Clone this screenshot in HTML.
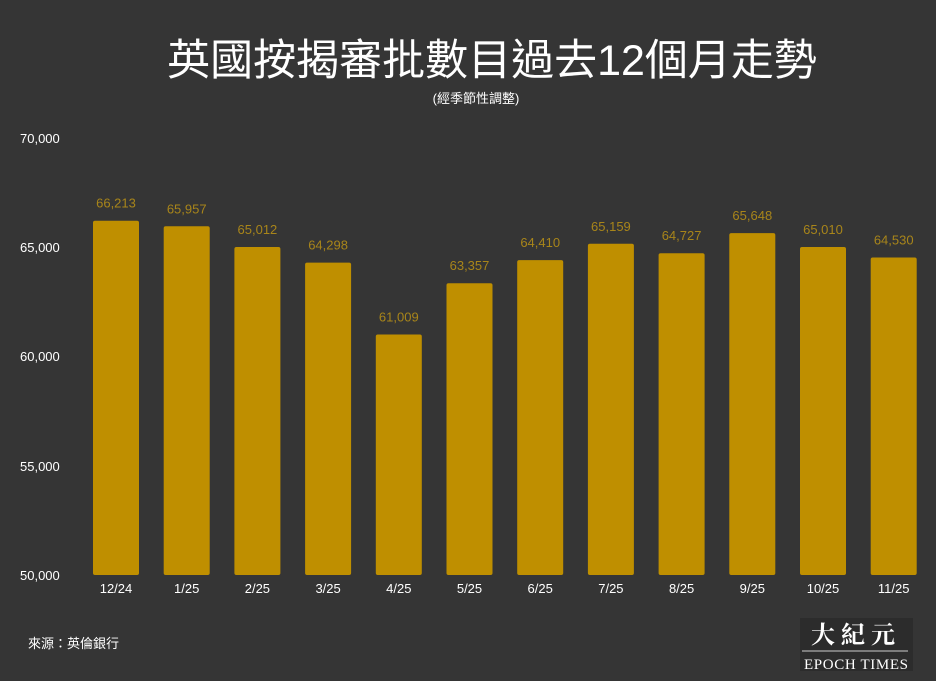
<!DOCTYPE html>
<html><head><meta charset="utf-8"><style>
body{margin:0;background:#353535;}
</style></head><body>
<svg width="936" height="681" xmlns="http://www.w3.org/2000/svg" style="display:block">
<rect width="936" height="681" fill="#353535"/>
<text x="492" y="75" text-anchor="middle" fill="#fff" font-size="43" font-family="Liberation Sans, Noto Sans CJK TC, sans-serif">英國按揭審批數目過去12個月走勢</text>
<text x="476" y="103" text-anchor="middle" fill="#fff" font-size="13" font-family="Liberation Sans, Noto Sans CJK TC, sans-serif">(經季節性調整)</text>
<g fill="#fff" font-size="13" font-family="Liberation Sans, sans-serif">
<text x="20" y="143">70,000</text>
<text x="20" y="252">65,000</text>
<text x="20" y="361">60,000</text>
<text x="20" y="471">55,000</text>
<text x="20" y="580">50,000</text>
</g>
<g fill="#bf8f00">
<rect x="93" y="220.7" width="46" height="354.3" rx="2"/>
<rect x="163.7" y="226.3" width="46" height="348.7" rx="2"/>
<rect x="234.4" y="247" width="46" height="328" rx="2"/>
<rect x="305.1" y="262.6" width="46" height="312.4" rx="2"/>
<rect x="375.8" y="334.5" width="46" height="240.5" rx="2"/>
<rect x="446.5" y="283.2" width="46" height="291.8" rx="2"/>
<rect x="517.2" y="260.1" width="46" height="314.9" rx="2"/>
<rect x="587.9" y="243.8" width="46" height="331.2" rx="2"/>
<rect x="658.6" y="253.2" width="46" height="321.8" rx="2"/>
<rect x="729.3" y="233.1" width="46" height="341.9" rx="2"/>
<rect x="800" y="247" width="46" height="328" rx="2"/>
<rect x="870.7" y="257.5" width="46" height="317.5" rx="2"/>
</g>
<g fill="#a8851a" font-size="13" text-anchor="middle" font-family="Liberation Sans, sans-serif">
<text x="116" y="207.7">66,213</text>
<text x="186.7" y="213.3">65,957</text>
<text x="257.4" y="234">65,012</text>
<text x="328.1" y="249.6">64,298</text>
<text x="398.8" y="321.5">61,009</text>
<text x="469.5" y="270.2">63,357</text>
<text x="540.2" y="247.1">64,410</text>
<text x="610.9" y="230.8">65,159</text>
<text x="681.6" y="240.2">64,727</text>
<text x="752.3" y="220.1">65,648</text>
<text x="823" y="234">65,010</text>
<text x="893.7" y="244.5">64,530</text>
</g>
<g fill="#fff" font-size="13" text-anchor="middle" font-family="Liberation Sans, sans-serif">
<text x="116" y="593">12/24</text>
<text x="186.7" y="593">1/25</text>
<text x="257.4" y="593">2/25</text>
<text x="328.1" y="593">3/25</text>
<text x="398.8" y="593">4/25</text>
<text x="469.5" y="593">5/25</text>
<text x="540.2" y="593">6/25</text>
<text x="610.9" y="593">7/25</text>
<text x="681.6" y="593">8/25</text>
<text x="752.3" y="593">9/25</text>
<text x="823" y="593">10/25</text>
<text x="893.7" y="593">11/25</text>
</g>
<text x="28" y="648" fill="#fff" font-size="13" font-family="Liberation Sans, Noto Sans CJK TC, sans-serif">來源：英倫銀行</text>
<rect x="800" y="618" width="113" height="53" fill="#2c2c2c"/>
<text x="856" y="643" text-anchor="middle" fill="#fff" font-size="24" font-weight="bold" letter-spacing="6" font-family="Noto Serif CJK SC, serif">大紀元</text>
<line x1="802" y1="651" x2="908" y2="651" stroke="#ccc" stroke-width="1"/>
<text x="856" y="669" text-anchor="middle" fill="#fff" font-size="15" font-family="Liberation Serif, serif" textLength="104">EPOCH TIMES</text>
</svg>
</body></html>
